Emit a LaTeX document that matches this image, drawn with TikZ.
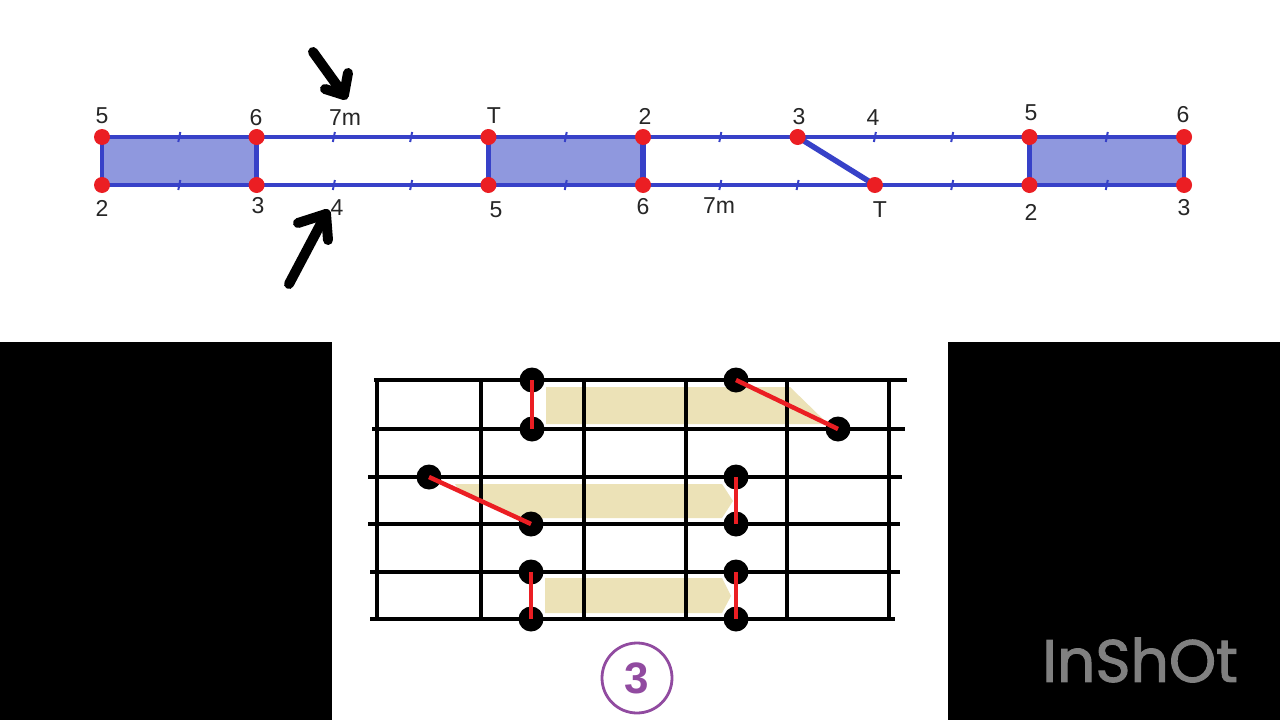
\documentclass[tikz,border=0pt]{standalone}
\usepackage{fontspec}
\setmainfont{Liberation Sans}
\newfontfamily\wmfont[FakeBold=1.6]{Poppins}
\usetikzlibrary{arrows.meta}
\definecolor{lineblue}{RGB}{55,65,200}
\definecolor{fillblue}{RGB}{143,152,222}
\definecolor{dotred}{RGB}{235,30,35}
\definecolor{beige}{RGB}{236,226,183}
\definecolor{purp}{RGB}{145,75,160}
\definecolor{wmgray}{RGB}{128,128,128}
\begin{document}
\begin{tikzpicture}[x=1pt,y=-1pt,
  bline/.style={draw=lineblue,line width=3.4pt},
  bthick/.style={draw=lineblue,line width=5.5pt},
  tick/.style={draw=lineblue,line width=2pt},
  rdot/.style={circle,fill=dotred,minimum size=16pt,inner sep=0pt},
  lab/.style={font=\fontsize{23}{23}\selectfont,inner sep=0pt,text=black!85},
  harrow/.style={draw=black,line width=10pt,line cap=round,line join=round},
  fret/.style={draw=black,line width=3.4pt},
  bdot/.style={circle,fill=black,minimum size=25pt,inner sep=0pt},
  rline/.style={draw=dotred,line width=4.5pt},
  beigeband/.style={fill=beige}
]
\useasboundingbox (0,0) rectangle (1280,720);
\fill[white] (0,0) rectangle (1280,720);
\fill[black] (0,342) rectangle (332,720);
\fill[black] (948,342) rectangle (1280,720);

% ---------- top diagram ----------
\foreach \i in {0,...,14}{
  \pgfmathsetmacro{\xx}{102+77.29*\i}
  \coordinate (t\i) at (\xx,137);
  \coordinate (b\i) at (\xx,185);
}
\fill[fillblue] (t0) rectangle (b2);
\fill[fillblue] (t5) rectangle (b7);
\fill[fillblue] (t12) rectangle (b14);
\draw[bline] (t0) -- (t14);
\draw[bline] (b0) -- (b14);
\draw[bline] (t0) -- (b0);
\draw[bline] (t14) -- (b14);
\draw[bthick] (t2) -- (b2);
\draw[bthick] (t5) -- (b5);
\draw[bthick] (t7) -- (b7);
\draw[bthick] (t12) -- (b12);
\draw[bthick] (t9) -- (b10);
\foreach \i in {1,3,4,6,8,10,11,13}{
  \draw[tick] ([shift={(-1,5)}]t\i) -- ([shift={(1,-5)}]t\i);
}
\foreach \i in {1,3,4,6,8,9,11,13}{
  \draw[tick] ([shift={(-1,5)}]b\i) -- ([shift={(1,-5)}]b\i);
}
\foreach \i in {0,2,5,7,9,12,14}{ \node[rdot] (rt\i) at (t\i) {}; }
\foreach \i in {0,2,5,7,10,12,14}{ \node[rdot] (rb\i) at (b\i) {}; }

% labels
\node[lab] (lt0) at (102,116) {5};
\node[lab] (lt2) at (256,118) {6};
\node[lab] (lt3) at (345,118) {7m};
\node[lab] (lt5) at (494,116) {T};
\node[lab] (lt7) at (645,116) {2};
\node[lab] (lt9) at (799,117) {3};
\node[lab] (lt10) at (873,118) {4};
\node[lab] (lt12) at (1031,113) {5};
\node[lab] (lt14) at (1183,115) {6};
\node[lab] (lb0) at (102,208) {2};
\node[lab] (lb2) at (258,206) {3};
\node[lab] (lb3) at (337,208) {4};
\node[lab] (lb5) at (496,210) {5};
\node[lab] (lb7) at (643,207) {6};
\node[lab] (lb8) at (719,206) {7m};
\node[lab] (lb10) at (880,210) {T};
\node[lab] (lb12) at (1031,212) {2};
\node[lab] (lb14) at (1184,208) {3};

% hand-drawn arrows
\coordinate (a1s) at (313,52);
\coordinate (a1t) at (344,95);
\draw[harrow] (a1s) -- (a1t);
\draw[harrow] (325,89) -- (a1t) -- (348,73);
\coordinate (a2s) at (289,284);
\coordinate (a2t) at (326,214);
\draw[harrow] (a2s) -- (a2t);
\draw[harrow] (298,223) -- (a2t) -- (328,240);

% ---------- fretboard ----------
\fill[beigeband] (546,387) -- (790,387) -- (828,424) -- (546,424) -- cycle;
\fill[beigeband] (455,484) -- (722,484) -- (733,501) -- (722,518) -- (522,518) -- (460,492) -- cycle;
\fill[beigeband] (545,578) -- (722,578) -- (731,596) -- (722,613) -- (545,613) -- cycle;

\foreach \yy/\xa/\xb in {380/374/907, 429/372/905, 477/368/902, 524/368/900, 572/370/900, 619/370/895}{
  \draw[fret] (\xa,\yy) -- (\xb,\yy);
}
\foreach \xx in {377,481,584,686,787,889}{
  \draw[fret] (\xx,380) -- (\xx,619);
}
\node[bdot] (d1) at (532,380) {};
\node[bdot] (d2) at (532,429) {};
\node[bdot] (d3) at (736,380) {};
\node[bdot] (d4) at (838,429) {};
\node[bdot] (d5) at (429,477) {};
\node[bdot] (d6) at (531,524) {};
\node[bdot] (d7) at (736,477) {};
\node[bdot] (d8) at (736,524) {};
\node[bdot] (d9) at (531,572) {};
\node[bdot] (d10) at (531,619) {};
\node[bdot] (d11) at (736,572) {};
\node[bdot] (d12) at (736,619) {};
\draw[rline] (d1.center) -- (d2.center);
\draw[rline] (d3.center) -- (d4.center);
\draw[rline] (d5.center) -- (d6.center);
\draw[rline] (d7.center) -- (d8.center);
\draw[rline] (d9.center) -- (d10.center);
\draw[rline] (d11.center) -- (d12.center);

% circled number
\node[circle,draw=purp,line width=2.8pt,minimum size=70pt,inner sep=0pt,text=purp,
      font=\fontsize{44}{44}\selectfont\bfseries] (num) at (637,678) {3};

% watermark
\node[text=wmgray,font=\wmfont\fontsize{60}{60}\selectfont,inner sep=0pt,anchor=west] (wm) at (1042,660) {InShOt};
\end{tikzpicture}
\end{document}
